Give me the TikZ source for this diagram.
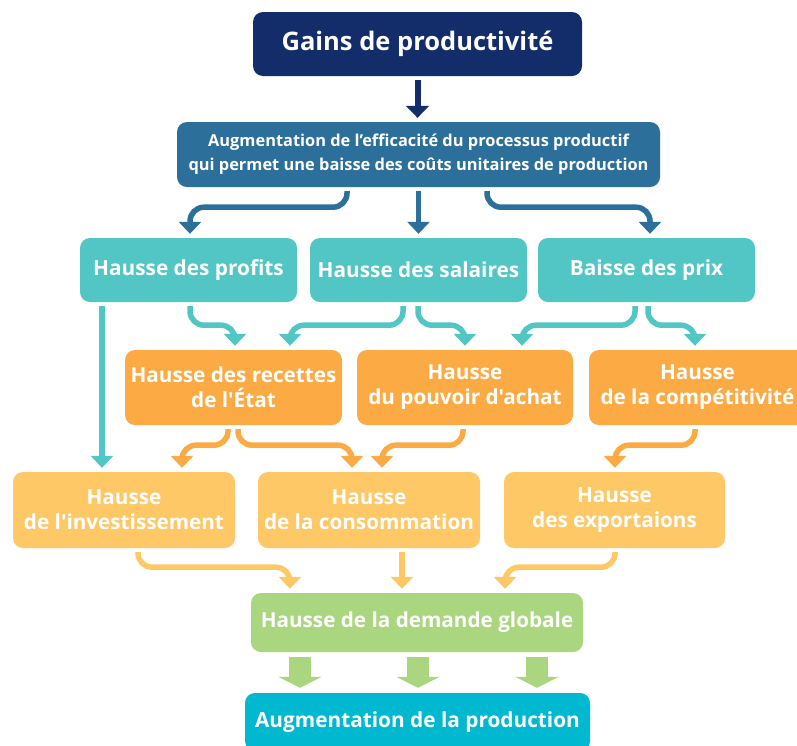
\documentclass[tikz,border=0pt]{standalone}
\usepackage{fontspec}
\setmainfont{Open Sans}[Ligatures=TeXOff]
\usetikzlibrary{arrows.meta,calc}
\definecolor{cnavy}{HTML}{122D6A}
\definecolor{csteel}{HTML}{2B6F9A}
\definecolor{cteal}{HTML}{52C5C5}
\definecolor{corange}{HTML}{FCAA43}
\definecolor{clorange}{HTML}{FEC867}
\definecolor{cgreen}{HTML}{A9D67E}
\definecolor{ccyan}{HTML}{00B8CF}
\tikzset{
  box/.style={rounded corners=10pt, text=white, font=\bfseries, align=center, inner sep=0pt},
  conn/.style={line width=5.5pt, rounded corners=14pt, -{Triangle[width=22pt,length=12pt]}, shorten >=4pt, shorten <=4pt},
  blockarr/.style={draw=cgreen, line width=22pt, -{Triangle[width=43pt,length=11pt]}, shorten >=5pt, shorten <=5pt}
}
\newcommand{\fs}[2]{\fontsize{#1}{#2}\selectfont}
\begin{document}
\begin{tikzpicture}[x=1pt,y=-1pt]
\useasboundingbox (0,0) rectangle (797,745);
\fill[white] (0,0) rectangle (797,745);

% nodes
\node[box, fill=cnavy, minimum width=329pt, minimum height=64pt, font=\bfseries\fs{25.5}{30}] (g) at (417.5,44) {Gains de productivité};
\node[box, fill=csteel, minimum width=483pt, minimum height=65pt, font=\bfseries\fs{16.4}{24}] (a) at (418.5,154.5) {Augmentation de l’efficacité du processus productif\\qui permet une baisse des coûts unitaires de production};

\node[box, fill=cteal, minimum width=217pt, minimum height=64pt, font=\bfseries\fs{20.8}{25}] (p) at (188.5,270) {Hausse des profits};
\node[box, fill=cteal, minimum width=217pt, minimum height=64pt, font=\bfseries\fs{20.8}{25}] (s) at (418.5,270) {Hausse des salaires};
\node[box, fill=cteal, minimum width=217pt, minimum height=64pt, font=\bfseries\fs{20.8}{25}] (b) at (646.5,270) {Baisse des prix};

\node[box, fill=corange, minimum width=217pt, minimum height=75pt, font=\bfseries\fs{20.7}{25}] (r) at (233.5,387.5) {Hausse des recettes\\de l'État};
\node[box, fill=corange, minimum width=216pt, minimum height=75pt, font=\bfseries\fs{20.7}{25}] (pa) at (465,387.5) {Hausse\\du pouvoir d'achat};
\node[box, fill=corange, minimum width=217pt, minimum height=75pt, font=\bfseries\fs{20.7}{25}] (c) at (697.5,387.5) {Hausse\\de la compétitivité};

\node[box, fill=clorange, minimum width=222pt, minimum height=76pt, font=\bfseries\fs{20.7}{25}] (inv) at (124,510) {Hausse\\de l'investissement};
\node[box, fill=clorange, minimum width=222pt, minimum height=76pt, font=\bfseries\fs{20.7}{25}] (co) at (369,510) {Hausse\\de la consommation};
\node[box, fill=clorange, minimum width=221pt, minimum height=76pt, font=\bfseries\fs{20.7}{25}] (ex) at (614.5,510) {Hausse\\des exportaions};

\node[box, fill=cgreen, minimum width=332pt, minimum height=59pt, font=\bfseries\fs{20.7}{25}] (d) at (417,622.5) {Hausse de la demande globale};
\node[box, fill=ccyan, minimum width=345pt, minimum height=58pt, font=\bfseries\fs{20.8}{25}] (pr) at (417.5,722) {Augmentation de la production};

% navy arrow
\draw[conn, cnavy, line width=6pt, -{Triangle[width=23pt,length=12pt]}] (g.south) -- (g.south |- a.north);

% steel arrows
\draw[conn, csteel] ([xshift=-71.5pt]a.south) -- ++(0,20) -| ([xshift=1.5pt]p.north);
\draw[conn, csteel] (a.south) -- (s.north);
\draw[conn, csteel] ([xshift=68.5pt]a.south) -- ++(0,20) -| ([xshift=3.5pt]b.north);

% teal arrows
\draw[conn, cteal] ([xshift=1.5pt]p.south) -- ++(0,23) -| ([xshift=1.5pt]r.north);
\draw[conn, cteal] ([xshift=-15.5pt]s.south) -- ++(0,23) -| ([xshift=56.5pt]r.north);
\draw[conn, cteal] ([xshift=-0.5pt]s.south) -- ++(0,23) -| (pa.north);
\draw[conn, cteal] ([xshift=-11.5pt]b.south) -- ++(0,23) -| ([xshift=57pt]pa.north);
\draw[conn, cteal] ([xshift=1.5pt]b.south) -- ++(0,23) -| ([xshift=-2.5pt]c.north);
\coordinate (pv) at ([xshift=-86.5pt]p.south);
\draw[conn, cteal] (pv) -- (pv |- inv.north);

% orange arrows
\draw[conn, corange] ([xshift=-5.5pt]r.south) -- ++(0,20) -| ([xshift=58pt]inv.north);
\draw[conn, corange] ([xshift=4.5pt]r.south) -- ++(0,20) -| ([xshift=-17pt]co.north);
\draw[conn, corange] ([xshift=-2pt]pa.south) -- ++(0,20) -| ([xshift=13pt]co.north);
\draw[conn, corange] ([xshift=-2.5pt]c.south) -- ++(0,20) -| ([xshift=0.5pt]ex.north);

% light orange arrows
\draw[conn, clorange] ([xshift=14pt]inv.south) -- ++(0,19) -| ([xshift=-127pt]d.north);
\coordinate (cv) at ([xshift=33pt]co.south);
\draw[conn, clorange] (cv) -- (cv |- d.north);
\draw[conn, clorange] ([xshift=0.5pt]ex.south) -- ++(0,19) -| ([xshift=88pt]d.north);

% green block arrows
\foreach \dx/\nm in {-117/l,1/m,120/rr}{
  \coordinate (ga\nm) at ([xshift=\dx pt]d.south);
  \draw[blockarr] (ga\nm) -- (ga\nm |- pr.north);
}
\end{tikzpicture}
\end{document}
